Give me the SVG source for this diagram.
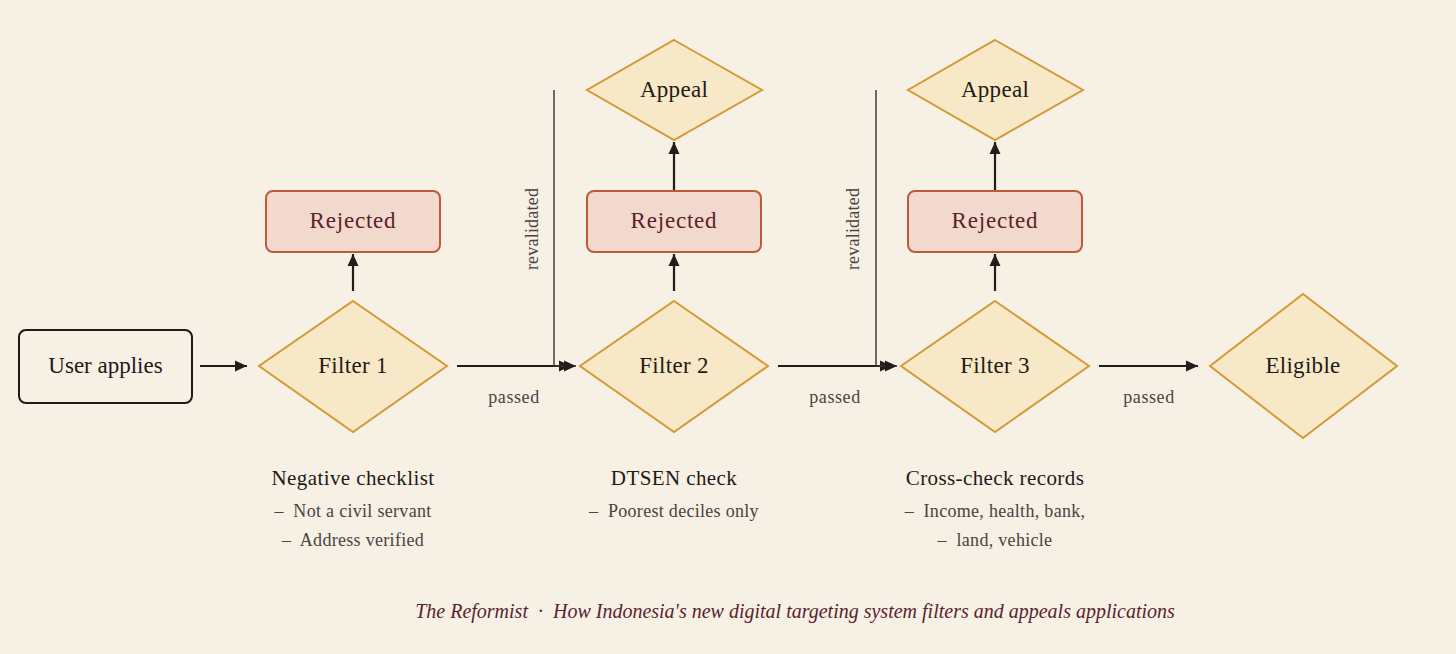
<svg xmlns="http://www.w3.org/2000/svg" width="1456" height="654" viewBox="0 0 1456 654">
<defs>
<marker id="ah" viewBox="0 0 12 12" refX="12" refY="6" markerWidth="12" markerHeight="12" markerUnits="userSpaceOnUse" orient="auto">
<path d="M0,0.5 L12,6 L0,11.5 z" fill="#231d1a"/>
</marker>
<style>
.t{font-family:"Liberation Serif","DejaVu Serif",serif;fill:#1f1a17;text-anchor:middle;dominant-baseline:central;white-space:pre}
.node{font-size:23px;letter-spacing:0.3px}
.dia{fill:#f7e8c8;stroke:#d39a36;stroke-width:2}
.rej{fill:#f2d9ce;stroke:#c0583a;stroke-width:2}
.rejt{fill:#5c1e2b;letter-spacing:0.8px}
.edge{fill:none;stroke:#231d1a;stroke-width:2.2}
.rev{fill:none;stroke:#3a332e;stroke-width:1.4}
.lbl{font-size:18px;fill:#4a433e;letter-spacing:0.6px}
.vl{letter-spacing:0.2px}
.hd{font-size:21px;letter-spacing:0.4px}
.it{font-size:18px;fill:#4a433e;letter-spacing:0.3px}
.foot{font-size:20px;font-style:italic;fill:#5a1f2e}
</style>
</defs>
<rect width="1456" height="654" fill="#f6f0e5"/>

<g id="connectors">
<path class="edge" d="M200,366 H247" marker-end="url(#ah)"/>
<path class="edge" d="M353,291 V254" marker-end="url(#ah)"/>
<path class="edge" d="M457,366 H571" marker-end="url(#ah)"/>
<path class="rev" d="M554,90 V366 H576" marker-end="url(#ah)"/>
<path class="edge" d="M674,291 V254" marker-end="url(#ah)"/>
<path class="edge" d="M674,191 V142" marker-end="url(#ah)"/>
<path class="edge" d="M778,366 H892" marker-end="url(#ah)"/>
<path class="rev" d="M876,90 V366 H897" marker-end="url(#ah)"/>
<path class="edge" d="M995,291 V254" marker-end="url(#ah)"/>
<path class="edge" d="M995,191 V142" marker-end="url(#ah)"/>
<path class="edge" d="M1099,366 H1198" marker-end="url(#ah)"/>
<text class="t lbl" x="514" y="397">passed</text>
<text class="t lbl" x="835" y="397">passed</text>
<text class="t lbl" x="1149" y="397">passed</text>
<text class="t lbl vl" transform="translate(532,229) rotate(-90)">revalidated</text>
<text class="t lbl vl" transform="translate(853,229) rotate(-90)">revalidated</text>
</g>

<g id="user-applies">
<rect x="19" y="330" width="173" height="73" rx="7" fill="#f6f0e5" stroke="#1f1a17" stroke-width="2"/>
<text class="t node" x="105.5" y="365" style="letter-spacing:0">User applies</text>
</g>

<g id="filter1">
<polygon class="dia" points="353,301 447,366 353,432 259,366"/>
<text class="t node" x="353" y="365">Filter 1</text>
</g>
<g id="rejected1">
<rect class="rej" x="266" y="191" width="174" height="61" rx="7"/>
<text class="t node rejt" x="353" y="220">Rejected</text>
</g>

<g id="filter2">
<polygon class="dia" points="674,301 768,366 674,432 580,366"/>
<text class="t node" x="674" y="365">Filter 2</text>
</g>
<g id="rejected2">
<rect class="rej" x="587" y="191" width="174" height="61" rx="7"/>
<text class="t node rejt" x="674" y="220">Rejected</text>
</g>
<g id="appeal2">
<polygon class="dia" points="674,40 762,90 674,140 587,90"/>
<text class="t node" x="674" y="89">Appeal</text>
</g>

<g id="filter3">
<polygon class="dia" points="995,301 1089,366 995,432 901,366"/>
<text class="t node" x="995" y="365">Filter 3</text>
</g>
<g id="rejected3">
<rect class="rej" x="908" y="191" width="174" height="61" rx="7"/>
<text class="t node rejt" x="995" y="220">Rejected</text>
</g>
<g id="appeal3">
<polygon class="dia" points="995,40 1083,90 995,140 908,90"/>
<text class="t node" x="995" y="89">Appeal</text>
</g>

<g id="eligible">
<polygon class="dia" points="1303,294 1397,366 1303,438 1210,366"/>
<text class="t node" x="1303" y="365">Eligible</text>
</g>

<g id="notes1">
<text class="t hd" x="353" y="478">Negative checklist</text>
<text class="t it" x="353" y="511">–  Not a civil servant</text>
<text class="t it" x="353" y="540">–  Address verified</text>
</g>
<g id="notes2">
<text class="t hd" x="674" y="478">DTSEN check</text>
<text class="t it" x="674" y="511">–  Poorest deciles only</text>
</g>
<g id="notes3">
<text class="t hd" x="995" y="478">Cross-check records</text>
<text class="t it" x="995" y="511">–  Income, health, bank,</text>
<text class="t it" x="995" y="540">–  land, vehicle</text>
</g>

<text class="t foot" x="795" y="611">The Reformist  ·  How Indonesia's new digital targeting system filters and appeals applications</text>
</svg>
